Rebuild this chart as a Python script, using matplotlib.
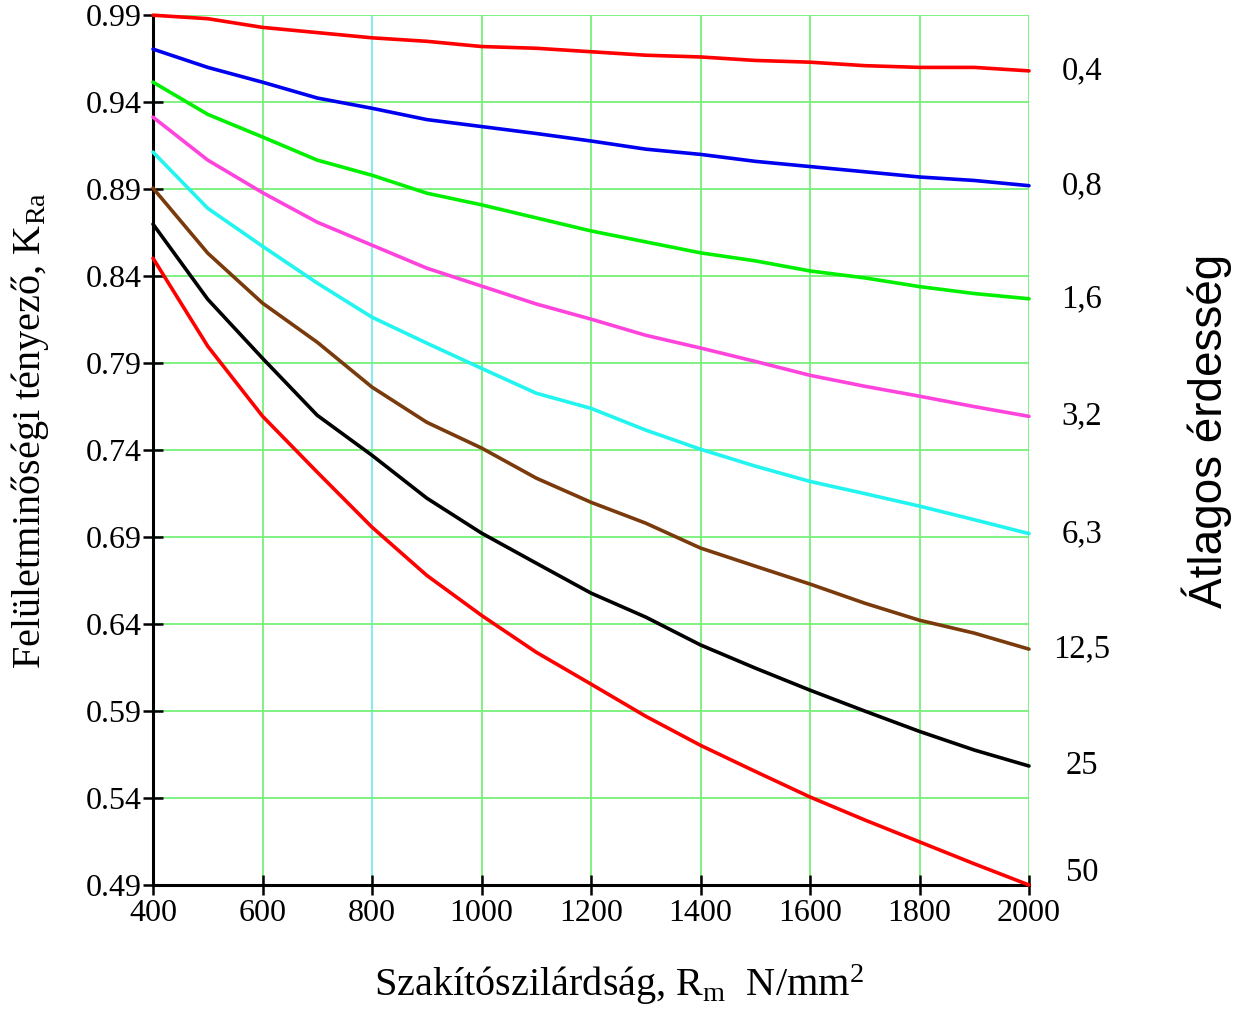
import matplotlib
matplotlib.use("Agg")
import matplotlib.pyplot as plt

# Szakítószilárdság (N/mm2)
rm = [400, 500, 600, 700, 800, 900, 1000, 1100, 1200, 1300,
      1400, 1500, 1600, 1700, 1800, 1900, 2000]

# felületminőségi tényező görbék, Ra szerint
k_04 = [0.990, 0.988, 0.983, 0.980, 0.977, 0.975, 0.972, 0.971, 0.969,
        0.967, 0.966, 0.964, 0.963, 0.961, 0.960, 0.960, 0.958]
k_08 = [0.9705, 0.960, 0.9515, 0.9424, 0.9365, 0.930, 0.926, 0.922, 0.9177,
        0.913, 0.910, 0.906, 0.903, 0.900, 0.897, 0.895, 0.892]
k_16 = [0.9515, 0.933, 0.920, 0.9067, 0.898, 0.8877, 0.881, 0.8735, 0.866,
        0.8597, 0.8534, 0.8488, 0.843, 0.839, 0.834, 0.830, 0.827]
k_32 = [0.9314, 0.9067, 0.888, 0.871, 0.8578, 0.8446, 0.8343, 0.824, 0.8153,
        0.806, 0.7987, 0.791, 0.783, 0.7767, 0.771, 0.765, 0.7594]
k_63 = [0.9113, 0.879, 0.8572, 0.836, 0.8164, 0.8015, 0.787, 0.7727, 0.764,
        0.7515, 0.7405, 0.7308, 0.722, 0.715, 0.7078, 0.700, 0.692]
k_125 = [0.8906, 0.8532, 0.8245, 0.802, 0.7762, 0.756, 0.7412, 0.7239, 0.710,
         0.698, 0.6837, 0.6733, 0.663, 0.652, 0.6422, 0.6348, 0.6256]
k_25 = [0.8699, 0.8267, 0.7928, 0.760, 0.737, 0.7124, 0.6923, 0.675, 0.6578,
        0.644, 0.628, 0.6147, 0.602, 0.590, 0.5783, 0.5676, 0.5584]
k_50 = [0.8503, 0.7997, 0.7595, 0.7273, 0.6957, 0.668, 0.645, 0.6238, 0.6055,
        0.587, 0.5703, 0.5553, 0.5406, 0.5274, 0.5148, 0.5022, 0.490]

ra_labels = ["0,4", "0,8", "1,6", "3,2", "6,3", "12,5", "25", "50"]
series = [k_04, k_08, k_16, k_32, k_63, k_125, k_25, k_50]
colors = ["#ff0000", "#0000f0", "#00f000", "#ff44dd", "#22f4f0",
          "#7a3a0c", "#000000", "#ff0000"]

xticks = [400, 600, 800, 1000, 1200, 1400, 1600, 1800, 2000]
yticks = [0.49, 0.54, 0.59, 0.64, 0.69, 0.74, 0.79, 0.84, 0.89, 0.94, 0.99]

plt.rcParams['font.family'] = ['Liberation Serif', 'DejaVu Serif']
plt.rcParams['mathtext.fontset'] = 'custom'
plt.rcParams['mathtext.rm'] = 'Liberation Serif'
plt.rcParams['mathtext.it'] = 'Liberation Serif'

fig = plt.figure(figsize=(12.35, 10.14), dpi=100)
ax = fig.add_axes([0.1239, 0.1272, 0.7093, 0.8578])

# rács
grid_col = "#77f077"
for x in xticks[1:]:
    c = "#77ecec" if x == 800 else grid_col
    ax.axvline(x, color=c, lw=1.3, zorder=0)
for y in yticks[1:]:
    ax.axhline(y, color=grid_col, lw=1.3, zorder=0)

for vals, col, lab in zip(series, colors, ra_labels):
    ax.plot(rm, vals, color=col, lw=2.6, clip_on=False, zorder=3,
            solid_capstyle='round')
    ly = max(vals[-1], 0.497)
    ax.text(1.0605, ly, lab, transform=ax.get_yaxis_transform(),
            ha='center', va='center', fontsize=23.5)

ax.set_xlim(400, 2000)
ax.set_ylim(0.49, 0.99)
ax.set_xticks(xticks)
ax.set_yticks(yticks)
ax.set_yticklabels(["%.2f" % v for v in yticks])
ax.tick_params(direction='inout', length=14, width=1.8, labelsize=23,
               color='black')
ax.tick_params(axis='x', pad=3)
ax.tick_params(axis='y', pad=1)

for s in ['top', 'right']:
    ax.spines[s].set_visible(False)
for s in ['left', 'bottom']:
    ax.spines[s].set_linewidth(2.2)

ax.set_ylabel("Felületminőségi tényező, $\\mathregular{K_{Ra}}$", fontsize=29)
ax.set_xlabel("Szakítószilárdság, $\\mathregular{R_m}$  N/mm$^\\mathregular{2}$",
              fontsize=29)
ax.yaxis.set_label_coords(-0.117, 0.522)
ax.xaxis.set_label_coords(0.532, -0.089)

fig.text(0.977, 0.575, "Átlagos érdesség", rotation=90, ha='center',
         va='center', fontsize=33, family='Liberation Sans')

fig.savefig("out.png", dpi=100, facecolor='white')
